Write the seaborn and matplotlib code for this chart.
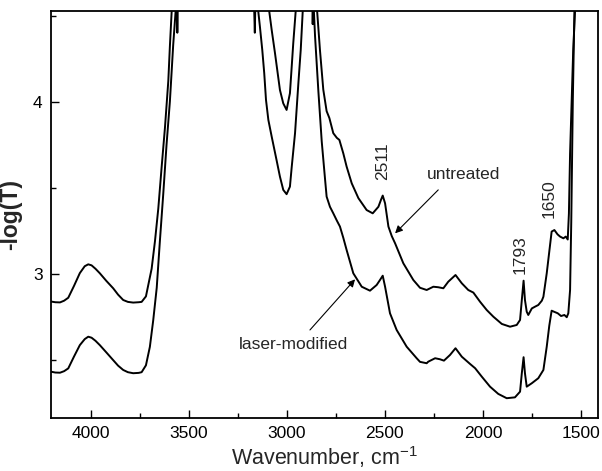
import matplotlib
matplotlib.use("Agg")
import matplotlib.pyplot as plt
from matplotlib.ticker import MultipleLocator
import seaborn as sns

# IR spectra: wavenumber (cm-1) and -log(T) for both samples
wn_untreated = [4202, 4180, 4156, 4135, 4114, 4085, 4055, 4030, 4012, 3995, 3975, 3953,
                3920, 3885, 3860, 3834, 3810, 3783, 3755, 3740, 3718, 3701, 3689, 3672,
                3655, 3638, 3621, 3604, 3596, 3587, 3575, 3500, 3400, 3300, 3200, 3100,
                3089, 3077, 3060, 3035, 3018, 3001, 2984, 2967, 2955, 2945, 2900, 2860,
                2845, 2831, 2814, 2797, 2783, 2763, 2745, 2732, 2712, 2695, 2669, 2635,
                2593, 2562, 2533, 2520, 2511, 2499, 2482, 2465, 2448, 2406, 2355, 2321,
                2287, 2253, 2228, 2202, 2177, 2140, 2108, 2075, 2049, 2015, 1981, 1947,
                1904, 1862, 1828, 1811, 1802, 1793, 1786, 1777, 1769, 1751, 1735, 1718,
                1700, 1692, 1675, 1662, 1650, 1636, 1620, 1607, 1590, 1578, 1568, 1562,
                1556, 1548, 1540, 1531, 1522]
abs_untreated = [2.840, 2.836, 2.835, 2.845, 2.862, 2.930, 3.005, 3.045, 3.056, 3.050, 3.030, 3.004,
                 2.960, 2.917, 2.880, 2.849, 2.838, 2.834, 2.836, 2.838, 2.870, 2.964, 3.030, 3.190,
                 3.380, 3.620, 3.850, 4.120, 4.320, 4.520, 4.800, 5.000, 5.000, 5.000, 5.000, 4.900,
                 4.520, 4.416, 4.280, 4.068, 3.990, 3.952, 4.049, 4.340, 4.520, 4.800, 5.000, 4.900,
                 4.520, 4.300, 4.070, 3.945, 3.905, 3.817, 3.790, 3.778, 3.700, 3.623, 3.526, 3.440,
                 3.371, 3.352, 3.390, 3.430, 3.455, 3.410, 3.275, 3.220, 3.178, 3.062, 2.965, 2.920,
                 2.907, 2.926, 2.923, 2.917, 2.955, 2.994, 2.946, 2.907, 2.892, 2.839, 2.791, 2.752,
                 2.710, 2.694, 2.704, 2.733, 2.849, 2.961, 2.849, 2.781, 2.762, 2.800, 2.810, 2.820,
                 2.845, 2.868, 3.004, 3.130, 3.246, 3.255, 3.230, 3.217, 3.207, 3.217, 3.200, 3.350,
                 3.700, 4.000, 4.300, 4.520, 4.900]

wn_laser = [4202, 4180, 4156, 4135, 4114, 4085, 4055, 4030, 4012, 3995, 3975, 3953,
            3920, 3885, 3860, 3834, 3810, 3783, 3755, 3740, 3718, 3698, 3681, 3663,
            3647, 3630, 3613, 3596, 3579, 3567, 3562, 3558, 3550, 3450, 3350, 3250,
            3175, 3163, 3155, 3145, 3137, 3125, 3115, 3106, 3094, 3077, 3052, 3035,
            3018, 3001, 2984, 2975, 2958, 2941, 2929, 2919, 2905, 2885, 2872, 2868,
            2865, 2856, 2839, 2822, 2805, 2797, 2780, 2763, 2745, 2729, 2712, 2695,
            2661, 2618, 2576, 2542, 2525, 2511, 2499, 2474, 2440, 2389, 2338, 2321,
            2287, 2279, 2244, 2219, 2199, 2168, 2140, 2108, 2066, 2040, 2006, 1964,
            1922, 1879, 1837, 1811, 1802, 1793, 1786, 1777, 1751, 1718, 1692, 1675,
            1662, 1650, 1636, 1619, 1602, 1585, 1573, 1565, 1556, 1550, 1542, 1534,
            1522]
abs_laser = [2.433, 2.428, 2.427, 2.436, 2.452, 2.520, 2.587, 2.622, 2.636, 2.630, 2.612, 2.587,
             2.545, 2.500, 2.468, 2.443, 2.430, 2.424, 2.426, 2.430, 2.470, 2.577, 2.730, 2.920,
             3.190, 3.460, 3.750, 4.000, 4.330, 4.520, 4.700, 4.400, 4.900, 5.000, 5.000, 5.000,
             4.900, 4.400, 4.900, 4.520, 4.435, 4.300, 4.165, 4.010, 3.894, 3.797, 3.660, 3.565,
             3.488, 3.463, 3.507, 3.620, 3.817, 4.107, 4.300, 4.520, 4.900, 5.000, 4.800, 4.450,
             4.600, 4.380, 4.060, 3.770, 3.550, 3.449, 3.390, 3.352, 3.310, 3.275, 3.210, 3.139,
             3.004, 2.926, 2.903, 2.936, 2.965, 2.990, 2.926, 2.772, 2.675, 2.578, 2.511, 2.490,
             2.482, 2.491, 2.511, 2.505, 2.497, 2.530, 2.569, 2.520, 2.478, 2.453, 2.404, 2.346,
             2.304, 2.279, 2.284, 2.317, 2.424, 2.517, 2.424, 2.346, 2.366, 2.395, 2.443, 2.578,
             2.700, 2.787, 2.780, 2.772, 2.756, 2.762, 2.749, 2.772, 2.907, 3.300, 4.010, 4.520,
             4.900]

peak_labels = ["2511", "1793", "1650"]
peak_label_pos = [(2512, 3.652), (1811, 3.11), (1663, 3.435)]
sample_names = ["untreated", "laser-modified"]

sns.set_theme(style="ticks")
plt.rcParams["font.family"] = ["Liberation Sans", "DejaVu Sans"]
plt.rcParams["mathtext.fontset"] = "custom"
plt.rcParams["mathtext.rm"] = "Liberation Sans"
plt.rcParams["mathtext.it"] = "Liberation Sans:italic"
plt.rcParams["mathtext.bf"] = "Liberation Sans:bold"

fig = plt.figure(figsize=(6.02, 4.71), dpi=100)
ax = fig.add_axes([0.0847, 0.1132, 0.9092, 0.8634])

sns.lineplot(x=wn_untreated, y=abs_untreated, sort=False, estimator=None,
             color="black", lw=1.4, ax=ax)
sns.lineplot(x=wn_laser, y=abs_laser, sort=False, estimator=None,
             color="black", lw=1.4, ax=ax)

ax.set_xlim(4202, 1412)
ax.set_ylim(2.166, 4.526)

ax.xaxis.set_major_locator(MultipleLocator(500))
ax.xaxis.set_minor_locator(MultipleLocator(250))
ax.yaxis.set_major_locator(MultipleLocator(1))
ax.yaxis.set_minor_locator(MultipleLocator(0.5))
ax.tick_params(which="both", direction="in", top=False, right=False,
               width=1.0, colors="black", labelsize=12.5)
ax.tick_params(which="major", length=6, pad=6)
ax.tick_params(which="minor", length=3.5)

for sp in ax.spines.values():
    sp.set_linewidth(1.3)
    sp.set_color("black")

ax.set_xlabel(r"Wavenumber, cm$^{\mathrm{-1}}$", fontsize=15.5, labelpad=2)
ax.set_ylabel("-log(T)", fontsize=16.5, fontweight="bold", labelpad=8)

for lab, (xp, yp) in zip(peak_labels, peak_label_pos):
    ax.text(xp, yp, lab, rotation=90, ha="center", va="center", fontsize=12.5)

arrow = dict(arrowstyle="-|>", lw=0.8, color="black", mutation_scale=11, shrinkA=0, shrinkB=0)
ax.annotate("", xy=(2448, 3.236), xytext=(2228, 3.488), arrowprops=arrow)
ax.text(2097, 3.575, sample_names[0], ha="center", va="center", fontsize=12.5)
ax.annotate("", xy=(2652, 2.969), xytext=(2882, 2.675), arrowprops=arrow)
ax.text(2965, 2.588, sample_names[1], ha="center", va="center", fontsize=12.5)

fig.savefig("out.png", dpi=100)
